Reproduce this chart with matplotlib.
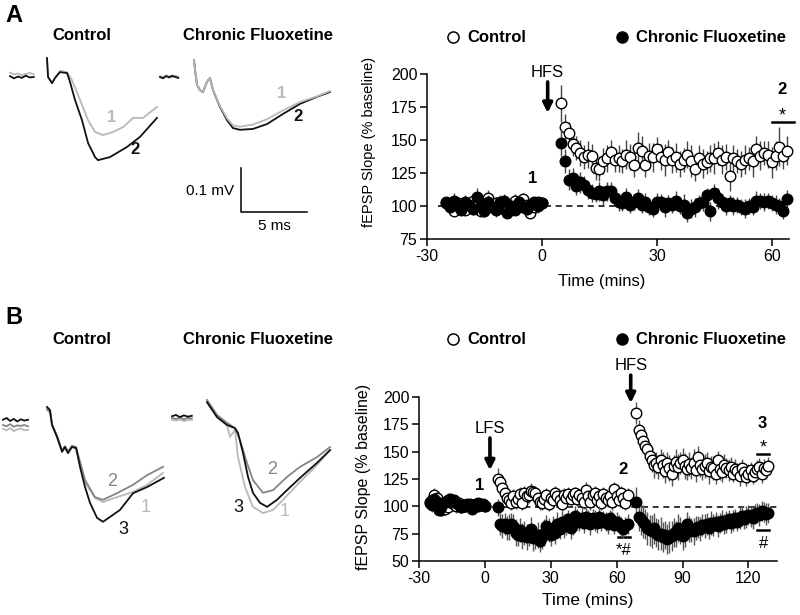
import matplotlib.pyplot as plt
import numpy as np
from matplotlib.lines import Line2D

plt.rcParams['font.family'] = ['Liberation Sans', 'DejaVu Sans']
plt.rcParams['axes.unicode_minus'] = False

W, H = 800, 615
PX_MS, PX_UV = 13.2, 0.44   # trace scale: pixels per ms, pixels per uV

# ---------------- time course data (% baseline), 1-min bins ----------------
# panel A: baseline from -25 min, post-HFS from 5 min
a_base_start, a_post_start = -25, 5
a_ctrl_base = [103, 100, 96, 102, 99, 97, 101, 104, 98, 96, 101, 106, 99,
               102, 103, 98, 96, 100, 104, 102, 105, 101, 95, 99, 103, 102]
a_flx_base = [102, 99, 104, 100, 97, 103, 101, 98, 107, 100, 96, 103, 99,
              97, 102, 104, 95, 100, 97, 103, 99, 98, 101, 103, 100, 102]
a_ctrl_post = [178, 160, 155, 147, 144, 140, 137, 139, 138, 129,
               128, 134, 136, 141, 135, 136, 134, 139, 137, 131,
               144, 142, 131, 138, 137, 143, 137, 135, 141, 135,
               137, 132, 135, 139, 134, 128, 136, 132, 133, 136,
               136, 140, 135, 137, 123, 136, 134, 132, 135, 136,
               134, 143, 138, 140, 139, 133, 138, 145, 138, 142]
a_flx_post = [148, 134, 120, 121, 115, 118, 116, 112, 110, 109,
              111, 108, 111, 111, 106, 103, 102, 107, 101, 103,
              106, 101, 103, 99, 98, 103, 103, 99, 102, 101,
              104, 100, 101, 95, 98, 99, 102, 103, 108, 96,
              110, 106, 103, 100, 102, 100, 101, 99, 98, 100,
              99, 104, 104, 103, 104, 102, 101, 100, 96, 105]
a_ctrl_base_sem = [4, 5, 3, 5, 4, 4, 5, 6, 4, 3, 5, 6, 4, 5, 4, 5, 4, 3, 5, 4,
                   5, 4, 4, 5, 4, 4]
a_flx_base_sem = [5, 4, 6, 5, 4, 5, 4, 5, 7, 5, 4, 5, 4, 5, 6, 5, 4, 5, 4, 5,
                  4, 5, 5, 4, 5, 4]
a_ctrl_post_sem = [14, 10, 9, 9, 9, 10, 9, 10, 9, 9, 9, 10, 10, 9, 9, 10, 9, 11, 10, 9,
                   12, 11, 9, 10, 11, 9, 10, 12, 9, 10, 11, 10, 9, 10, 12, 9, 10, 11, 9, 10,
                   12, 9, 11, 10, 12, 10, 9, 10, 11, 9, 12, 10, 11, 9, 10, 12, 11, 15, 10, 11]
a_flx_post_sem = [10, 9, 8, 8, 7, 8, 7, 7, 7, 6, 7, 7, 7, 7, 6, 7, 6, 7, 6, 6,
                  7, 6, 7, 6, 6, 7, 6, 7, 6, 6, 7, 6, 8, 7, 7, 7, 6, 7, 6, 7,
                  7, 8, 6, 7, 6, 7, 6, 6, 7, 6, 6, 7, 6, 7, 6, 6, 7, 6, 6, 7]

# panel B: baseline from -25 min, post-LFS from 6 min, post-HFS from 69 min
b_base_start, b_lfs_start, b_hfs_start = -25, 6, 69
b_ctrl_base = [104, 106, 110, 108, 103, 97, 101, 98, 99, 104, 103, 102, 100,
               103, 99, 101, 100, 101, 102, 100, 101, 102, 100, 101, 102, 100]
b_flx_base = [103, 101, 107, 104, 97, 99, 103, 104, 106, 107, 105, 106, 103,
              101, 99, 101, 100, 102, 101, 98, 100, 100, 103, 102, 101, 100]
b_ctrl_lfs = [125, 122, 117, 112, 108, 106, 103, 109, 104, 107,
              111, 103, 112, 109, 110, 114, 113, 112, 108, 104,
              103, 107, 110, 102, 108, 106, 112, 109, 106, 102,
              110, 108, 111, 107, 110, 112, 107, 110, 108, 104,
              115, 109, 104, 110, 112, 106, 109, 103, 111, 108,
              106, 109, 104, 116, 109, 106, 112, 108, 103, 110]
b_flx_lfs = [99, 84, 82, 84, 80, 81, 84, 82, 76, 74,
             78, 73, 76, 72, 74, 79, 71, 72, 74, 68,
             72, 76, 82, 78, 74, 80, 76, 84, 79, 86,
             82, 84, 88, 80, 85, 91, 88, 86, 89, 85,
             90, 88, 84, 89, 87, 85, 90, 86, 88, 86,
             84, 89, 87, 83, 86, 84, 81, 79, 82, 84]
b_ctrl_hfs = [185, 170, 165, 160, 155, 152, 146, 142, 138, 140,
              136, 142, 138, 132, 140, 135, 130, 137, 141, 136,
              140, 142, 137, 134, 139, 135, 140, 133, 145, 138,
              134, 137, 140, 132, 136, 135, 130, 142, 134, 131,
              138, 135, 133, 136, 130, 134, 132, 128, 135, 131,
              127, 130, 133, 128, 131, 134, 136, 130, 135, 133, 137]
b_flx_hfs = [104, 90, 88, 86, 84, 80, 78, 77, 80, 76,
             74, 75, 72, 74, 70, 72, 73, 76, 75, 80,
             78, 73, 75, 84, 79, 78, 77, 80, 81, 79,
             83, 82, 84, 80, 85, 83, 86, 82, 85, 87,
             84, 86, 88, 85, 87, 89, 86, 89, 91, 88,
             90, 92, 90, 89, 93, 94, 92, 96, 95, 93, 94]
b_ctrl_base_sem = [6, 5, 7, 6, 5, 6, 5, 6, 5, 6, 5, 5, 6, 5, 5, 4, 5, 4, 5, 4,
                   4, 5, 4, 4, 5, 4]
b_flx_base_sem = [5, 6, 5, 6, 5, 6, 5, 5, 6, 5, 5, 4, 5, 5, 4, 5, 4, 4, 5, 4,
                  4, 5, 4, 4, 4, 4]
b_ctrl_lfs_sem = [10, 8, 7, 7, 6, 7, 6, 7, 6, 7, 7, 6, 7, 6, 7, 7, 6, 7, 6, 7,
                  6, 7, 7, 6, 7, 6, 7, 6, 7, 6, 7, 6, 7, 6, 7, 6, 7, 6, 7, 6,
                  7, 6, 7, 6, 7, 6, 7, 6, 7, 6, 7, 6, 7, 6, 7, 6, 7, 6, 6, 7]
b_flx_lfs_sem = [8, 10, 11, 10, 11, 12, 10, 11, 12, 10, 11, 12, 11, 12, 10, 11, 12, 11, 12, 10,
                 11, 12, 10, 11, 10, 11, 10, 11, 9, 10, 11, 10, 9, 10, 11, 9, 10, 9, 10, 9,
                 10, 9, 10, 9, 10, 9, 10, 9, 8, 9, 9, 8, 9, 8, 9, 8, 9, 8, 8, 9]
b_ctrl_hfs_sem = [10, 9, 9, 9, 8, 9, 10, 11, 12, 10, 11, 10, 12, 11, 10, 12, 11, 10, 11, 12,
                  10, 11, 12, 10, 11, 10, 12, 11, 10, 11, 10, 11, 10, 12, 10, 11, 10, 9, 10, 9,
                  10, 9, 10, 9, 8, 9, 8, 9, 8, 9, 8, 9, 8, 8, 9, 8, 8, 9, 8, 8, 8]
b_flx_hfs_sem = [14, 13, 14, 15, 14, 15, 14, 15, 14, 13, 14, 15, 14, 13, 14, 15, 14, 13, 12, 13,
                 12, 13, 12, 11, 12, 11, 12, 11, 10, 11, 10, 11, 10, 10, 11, 10, 9, 10, 9, 10,
                 9, 10, 9, 9, 10, 9, 9, 10, 9, 9, 10, 9, 9, 10, 9, 9, 10, 9, 9, 10, 9]

# ---------------- example fEPSP traces: ms from sweep start, uV from baseline ----------------
a_ctrl_pre_t = [0, 0.3, 0.6, 0.9, 1.2, 1.5, 1.8]
a_ctrl_pre_1 = [10, 6, 8, 4, 7, 9, 6]
a_ctrl_pre_2 = [2, -3, 1, -2, 3, -1, 0]
a_ctrl_t_1 = [0, 0.08, 0.38, 0.61, 0.98, 1.52, 1.89, 2.5, 3.11, 3.64, 4.24, 5.0, 5.76, 6.52, 7.27, 8.33]
a_ctrl_v_1 = [43, 0, -14, -2, 14, 11, -7, -52, -98, -125, -132, -125, -114, -93, -93, -68]
a_ctrl_t_2 = [0, 0.08, 0.38, 0.61, 0.98, 1.52, 1.74, 2.12, 2.65, 3.11, 3.64, 3.86, 4.77, 6.06, 7.05, 8.33]
a_ctrl_v_2 = [43, 0, -14, -2, 11, 9, -11, -52, -98, -150, -182, -189, -182, -159, -136, -93]

a_flx_pre_t = [0, 0.23, 0.46, 0.69, 0.92, 1.15, 1.38]
a_flx_pre_1 = [2, 0, 4, 1, -1, 3, 1]
a_flx_pre_2 = [0, -3, 2, -1, 3, 0, -2]
a_flx_t = [0, 0.08, 0.23, 0.45, 0.68, 0.98, 1.21, 1.44, 1.97, 2.5, 2.95, 3.48, 4.47, 5.53, 6.74, 8.03, 9.32, 10.3]
a_flx_v_1 = [39, 16, -18, -30, -34, -11, -2, -30, -66, -94, -110, -113, -108, -96, -76, -57, -44, -32]
a_flx_v_2 = [39, 16, -18, -30, -34, -11, -2, -30, -68, -98, -116, -120, -118, -107, -84, -61, -45, -34]

b_ctrl_pre_t = [0, 0.27, 0.54, 0.81, 1.08, 1.35, 1.62, 1.9]
b_ctrl_pre_1 = [-9, -12, -7, -14, -10, -8, -12, -11]
b_ctrl_pre_2 = [0, -3, 2, -4, -1, -2, 0, -3]
b_ctrl_pre_3 = [12, 16, 9, 14, 8, 13, 10, 12]
b_ctrl_t_3 = [0, 0.23, 0.38, 0.76, 1.14, 1.36, 1.59, 1.89, 2.2, 2.5, 2.88, 3.26, 3.79, 4.24,
              4.77, 5.53, 6.52, 7.58, 8.56, 8.86]
b_ctrl_v_3 = [41, 34, 0, -27, -61, -50, -64, -50, -52, -95, -141, -177, -211, -220,
              -209, -193, -155, -141, -125, -120]
b_ctrl_t_12 = [0, 0.23, 0.38, 0.76, 1.14, 1.36, 1.59, 1.89, 2.2, 2.88, 3.64, 4.24, 5.3, 6.52, 7.58, 8.79]
b_ctrl_v_2 = [36, 30, 2, -25, -57, -48, -60, -47, -50, -125, -164, -170, -155, -136, -114, -95]
b_ctrl_v_1 = [34, 28, 0, -28, -60, -52, -62, -50, -54, -130, -166, -175, -164, -152, -136, -109]

b_flx_pre_t = [0, 0.3, 0.6, 0.9, 1.2, 1.5]
b_flx_pre_1 = [-4, -6, -3, -7, -5, -4]
b_flx_pre_2 = [0, -2, 1, -3, 0, -1]
b_flx_pre_3 = [4, 7, 2, 6, 3, 5]
b_flx_t_3 = [0, 0.76, 1.52, 2.12, 2.35, 2.73, 3.11, 3.48, 4.02, 4.55, 5.3, 6.06, 7.05, 8.33, 9.32]
b_flx_v_3 = [36, 2, -16, -23, -34, -80, -134, -170, -193, -202, -186, -164, -136, -102, -73]
b_flx_t_1 = [0, 0.76, 1.52, 1.74, 2.12, 2.35, 2.88, 3.48, 4.24, 5.0, 5.76, 7.05, 8.33, 9.32]
b_flx_v_1 = [36, 2, -16, -43, -27, -89, -157, -202, -216, -209, -186, -145, -107, -73]
b_flx_t_2 = [0, 0.76, 1.52, 2.12, 2.5, 3.03, 3.48, 4.24, 5.0, 6.06, 7.05, 8.33, 9.32]
b_flx_v_2 = [41, 7, -11, -23, -50, -102, -141, -170, -164, -134, -111, -89, -66]

C1, C2, C3 = '#b8b8b8', '#858585', '#111111'

fig = plt.figure(figsize=(8, 6.15), dpi=100)


def fx(x):
    return x / W


def fy(y):
    return 1 - y / H


# overlay axes for the traces, 1 unit = 1 ms horizontally and 1 uV vertically
tr = fig.add_axes([0, 0, 1, 1], zorder=0)
tr.set_xlim(0, W / PX_MS)
tr.set_ylim(-H / PX_UV, 0)
tr.axis('off')


def trace(x_px, y_px, t, v, color):
    tr.plot(x_px / PX_MS + np.asarray(t), -y_px / PX_UV + np.asarray(v),
            color=color, lw=1.3, solid_joinstyle='round')


# A traces
trace(10, 77, a_ctrl_pre_t, a_ctrl_pre_1, C1)
trace(10, 77, a_ctrl_pre_t, a_ctrl_pre_2, C3)
trace(47, 77, a_ctrl_t_1, a_ctrl_v_1, C1)
trace(47, 77, a_ctrl_t_2, a_ctrl_v_2, C3)
trace(160, 77, a_flx_pre_t, a_flx_pre_1, C1)
trace(160, 77, a_flx_pre_t, a_flx_pre_2, C3)
trace(194, 77, a_flx_t, a_flx_v_2, C3)
trace(194, 77, a_flx_t, a_flx_v_1, C1)
# B traces
trace(3, 425, b_ctrl_pre_t, b_ctrl_pre_1, C1)
trace(3, 425, b_ctrl_pre_t, b_ctrl_pre_2, C2)
trace(3, 425, b_ctrl_pre_t, b_ctrl_pre_3, C3)
trace(47, 425, b_ctrl_t_12, b_ctrl_v_1, C1)
trace(47, 425, b_ctrl_t_12, b_ctrl_v_2, C2)
trace(47, 425, b_ctrl_t_3, b_ctrl_v_3, C3)
trace(172, 418, b_flx_pre_t, b_flx_pre_1, C1)
trace(172, 418, b_flx_pre_t, b_flx_pre_2, C2)
trace(172, 418, b_flx_pre_t, b_flx_pre_3, C3)
trace(207, 418, b_flx_t_1, b_flx_v_1, C1)
trace(207, 418, b_flx_t_2, b_flx_v_2, C2)
trace(207, 418, b_flx_t_3, b_flx_v_3, C3)

# scale bar 5 ms / 0.1 mV
sx, sy = 241 / PX_MS, -212 / PX_UV
tr.plot([sx, sx, sx + 5], [sy + 100, sy, sy], color='k', lw=1.1)
fig.text(fx(234), fy(191), '0.1 mV', ha='right', va='center', fontsize=11)
fig.text(fx(274), fy(226), '5 ms', ha='center', va='center', fontsize=11)

# trace labels
fig.text(fx(112), fy(118), '1', color=C1, fontsize=12, fontweight='bold', ha='center', va='center')
fig.text(fx(135), fy(149), '2', color=C3, fontsize=12, fontweight='bold', ha='center', va='center')
fig.text(fx(282), fy(93), '1', color=C1, fontsize=12, fontweight='bold', ha='center', va='center')
fig.text(fx(298), fy(117), '2', color=C3, fontsize=12, fontweight='bold', ha='center', va='center')
fig.text(fx(112), fy(482), '2', color=C2, fontsize=13, ha='center', va='center')
fig.text(fx(146), fy(507), '1', color=C1, fontsize=13, ha='center', va='center')
fig.text(fx(123), fy(530), '3', color=C3, fontsize=13, ha='center', va='center')
fig.text(fx(272), fy(470), '2', color=C2, fontsize=13, ha='center', va='center')
fig.text(fx(285), fy(512), '1', color=C1, fontsize=13, ha='center', va='center')
fig.text(fx(238), fy(508), '3', color=C3, fontsize=13, ha='center', va='center')

# panel letters and titles
for letter, y in (('A', 15), ('B', 317)):
    fig.text(fx(5), fy(y), letter, fontsize=17, fontweight='bold', va='center')
for y in (36, 339):
    fig.text(fx(82), fy(y), 'Control', fontsize=12, fontweight='bold', ha='center', va='center')
    fig.text(fx(258), fy(y), 'Chronic Fluoxetine', fontsize=12, fontweight='bold', ha='center', va='center')

# legends
for y in (37, 339):
    fig.add_artist(Line2D([fx(453)], [fy(y)], marker='o', ms=8, mfc='white', mec='k', mew=1.1,
                          transform=fig.transFigure))
    fig.text(fx(467), fy(y), 'Control', fontsize=12, fontweight='bold', va='center')
    fig.add_artist(Line2D([fx(622)], [fy(y)], marker='o', ms=8, mfc='k', mec='k',
                          transform=fig.transFigure))
    fig.text(fx(636), fy(y), 'Chronic Fluoxetine', fontsize=12, fontweight='bold', va='center')


def course(ax, t0, vals, sem, filled, ecolor):
    t = np.arange(len(vals)) + t0
    z = 4 if filled else 2
    ax.errorbar(t, vals, yerr=sem, fmt='none', ecolor=ecolor, elinewidth=1, capsize=0, zorder=z)
    ax.plot(t, vals, 'o', ms=7.6, mfc='k' if filled else 'white', mec='k', mew=1.0,
            zorder=z + 1, clip_on=False)


def style(ax, fs):
    ax.spines[['top', 'right']].set_visible(False)
    ax.spines[['left', 'bottom']].set_linewidth(1.1)
    ax.tick_params(direction='out', length=5, width=1.1, labelsize=fs, pad=2)
    ax.set_facecolor('none')


# ---------------- panel A time course ----------------
axA = fig.add_axes([427 / W, 1 - 239 / H, 362 / W, 165 / H], zorder=2)
axA.axhline(100, xmin=0.03, xmax=1, color='k', lw=1.1, ls=(0, (4, 3)), zorder=1)
course(axA, a_base_start, a_ctrl_base, a_ctrl_base_sem, False, '#444444')
course(axA, a_post_start, a_ctrl_post, a_ctrl_post_sem, False, '#444444')
course(axA, a_base_start, a_flx_base, a_flx_base_sem, True, '#444444')
course(axA, a_post_start, a_flx_post, a_flx_post_sem, True, '#444444')
axA.set_xlim(-30, 64.5)
axA.set_ylim(75, 200)
axA.set_xticks([-30, 0, 30, 60])
axA.set_yticks([75, 100, 125, 150, 175, 200])
style(axA, 11.5)
axA.set_ylabel('fEPSP Slope (% baseline)', fontsize=10.5)
axA.yaxis.set_label_coords(-0.142, 0.59)
axA.set_xlabel('Time (mins)', fontsize=12)
axA.xaxis.set_label_coords(0.483, -0.21)
axA.annotate('', xy=(1.5, 170.5), xytext=(1.5, 194),
             arrowprops=dict(arrowstyle='-|>', lw=2.6, color='k', mutation_scale=14,
                             shrinkA=0, shrinkB=0), annotation_clip=False)
axA.text(1.5, 201.5, 'HFS', fontsize=12, ha='center', va='center', clip_on=False)
axA.text(-2.4, 121, '1', fontsize=12, fontweight='bold', ha='center', va='center')
axA.text(62.7, 188.6, '2', fontsize=12, fontweight='bold', ha='center', va='center', clip_on=False)
axA.text(62.7, 168, '*', fontsize=13, ha='center', va='center', clip_on=False)
axA.plot([60, 65.7], [163.6, 163.6], color='k', lw=1.8, clip_on=False)

# ---------------- panel B time course ----------------
axB = fig.add_axes([419 / W, 1 - 561 / H, 358 / W, 164 / H], zorder=2)
axB.plot([-26, 133.5], [99, 99], color='k', lw=1.1, ls=(0, (4, 3)), zorder=1, clip_on=False)
course(axB, b_base_start, b_ctrl_base, b_ctrl_base_sem, False, '#555555')
course(axB, b_lfs_start, b_ctrl_lfs, b_ctrl_lfs_sem, False, '#555555')
course(axB, b_hfs_start, b_ctrl_hfs, b_ctrl_hfs_sem, False, '#555555')
course(axB, b_base_start, b_flx_base, b_flx_base_sem, True, '#555555')
course(axB, b_lfs_start, b_flx_lfs, b_flx_lfs_sem, True, '#555555')
course(axB, b_hfs_start, b_flx_hfs, b_flx_hfs_sem, True, '#555555')
axB.set_xlim(-30, 133)
axB.set_ylim(50, 200)
axB.set_xticks([-30, 0, 30, 60, 90, 120])
axB.set_yticks([50, 75, 100, 125, 150, 175, 200])
style(axB, 11.5)
axB.set_ylabel('fEPSP Slope (% baseline)', fontsize=11.5)
axB.yaxis.set_label_coords(-0.135, 0.51)
axB.set_xlabel('Time (mins)', fontsize=12.5)
axB.xaxis.set_label_coords(0.472, -0.195)
for x, tip, tail, txt, ty in ((2.3, 133, 162.5, 'LFS', 171), (66.4, 194.5, 220, 'HFS', 229)):
    axB.annotate('', xy=(x, tip), xytext=(x, tail),
                 arrowprops=dict(arrowstyle='-|>', lw=2.6, color='k', mutation_scale=14,
                                 shrinkA=0, shrinkB=0), annotation_clip=False)
    axB.text(x, ty, txt, fontsize=12, ha='center', va='center', clip_on=False)
axB.text(-2.3, 119.5, '1', fontsize=12, fontweight='bold', ha='center', va='center')
axB.text(62.7, 134, '2', fontsize=12, fontweight='bold', ha='center', va='center')
axB.text(126.4, 176, '3', fontsize=12, fontweight='bold', ha='center', va='center')
axB.text(126.6, 153, '*', fontsize=13, ha='center', va='center')
axB.plot([124, 129.5], [148, 148], color='k', lw=1.8, clip_on=False)
axB.text(63.2, 60, '*#', fontsize=12, ha='center', va='center', clip_on=False)
axB.plot([60.5, 66], [72, 72], color='k', lw=1.8)
axB.text(126.8, 66, '#', fontsize=12, ha='center', va='center')
axB.plot([124, 129.5], [78, 78], color='k', lw=1.8, clip_on=False)

fig.savefig('out.png', dpi=100)
